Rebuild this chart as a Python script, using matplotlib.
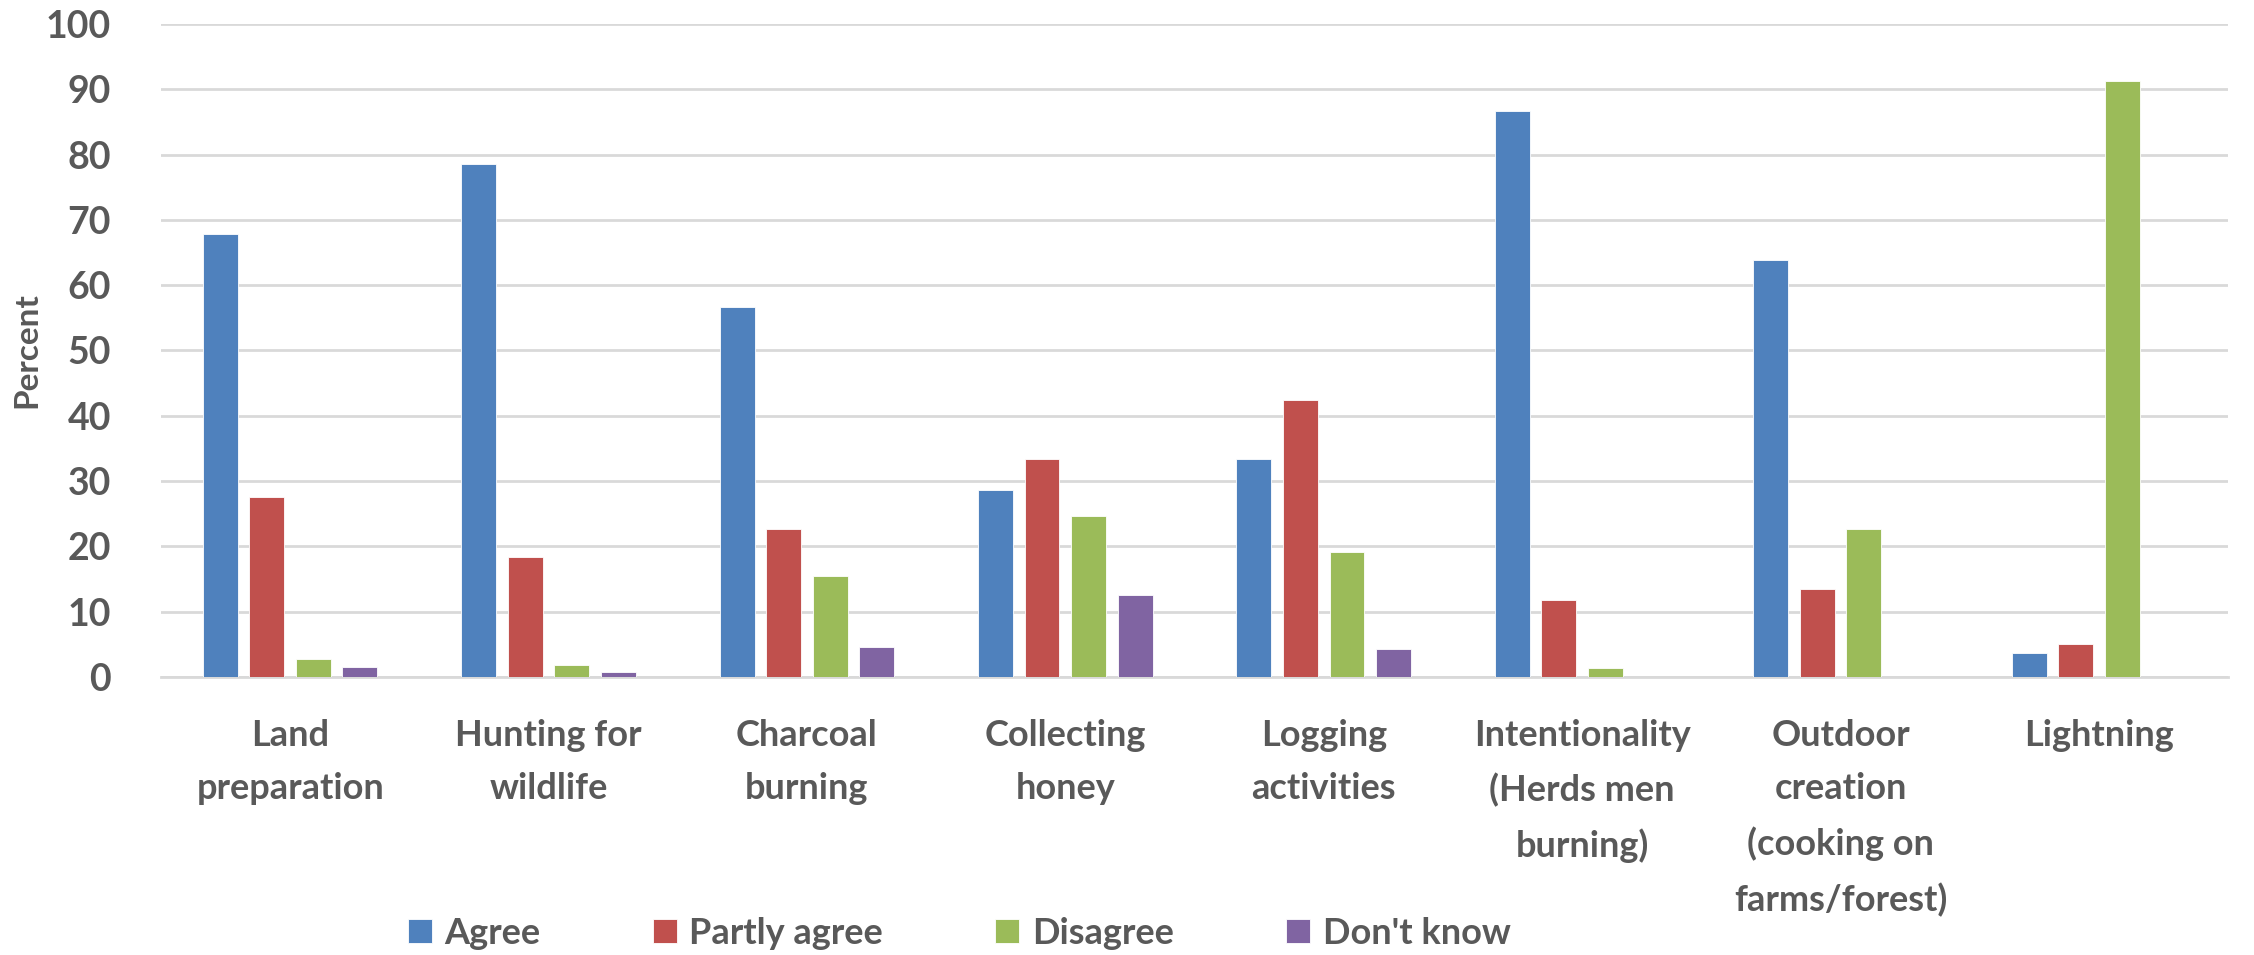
import matplotlib.pyplot as plt
import numpy as np

plt.rcParams['font.family'] = ['Lato', 'DejaVu Sans']

categories = ["Land\npreparation", "Hunting for\nwildlife", "Charcoal\nburning",
              "Collecting\nhoney", "Logging\nactivities",
              "Intentionality\n(Herds men\nburning)",
              "Outdoor\ncreation\n(cooking on\nfarms/forest)", "Lightning"]
series = ["Agree", "Partly agree", "Disagree", "Don't know"]

agree = [67.9, 78.5, 56.7, 28.7, 33.4, 86.6, 63.8, 3.6]
partly_agree = [27.6, 18.4, 22.7, 33.4, 42.4, 11.8, 13.5, 5.0]
disagree = [2.8, 1.9, 15.5, 24.6, 19.2, 1.4, 22.6, 91.2]
dont_know = [1.6, 0.7, 4.6, 12.6, 4.3, 0, 0, 0]

colors = ["#4F81BD", "#C0504D", "#9BBB59", "#8064A2"]
txt = "#595959"

fig = plt.figure(figsize=(22.54, 9.55), dpi=100)
ax = fig.add_axes([0.0714, 0.2911, 0.9171, 0.6838])

# clustered bars, four per category
x = np.arange(len(categories))
step, w = 0.18, 0.135
for j, (name, vals) in enumerate(zip(series, [agree, partly_agree, disagree, dont_know])):
    ax.bar(x + (j - 1.5) * step, vals, width=w, color=colors[j],
           edgecolor="white", linewidth=0.6, label=name, zorder=3)

ax.set_xlim(-0.5, len(categories) - 0.5)
ax.set_ylim(0, 100)
ax.set_yticks(range(0, 101, 10))
ax.yaxis.grid(True, color="#d9d9d9", linewidth=2, zorder=0)
for s in ["top", "right", "left"]:
    ax.spines[s].set_visible(False)
ax.spines["bottom"].set_color("#d9d9d9")
ax.spines["bottom"].set_linewidth(2)
ax.tick_params(length=0)
ax.tick_params(axis="y", labelsize=27, labelcolor=txt, pad=36)
ax.tick_params(axis="x", labelsize=26, labelcolor=txt, pad=30)
ax.set_xticks(x)
ax.set_xticklabels(categories, fontweight="bold", va="top", linespacing=1.75)
for t in ax.get_yticklabels():
    t.set_fontweight("bold")

ax.set_ylabel("Percent", fontsize=24, fontweight="bold", color=txt)
ax.yaxis.set_label_coords(-0.058, 0.5)

fig.legend(loc="center", bbox_to_anchor=(0.4255, 0.023), ncol=4, frameon=False,
           handlelength=0.67, handleheight=0.67, handletextpad=0.35,
           columnspacing=3.1, labelcolor=txt, prop={"weight": "bold", "size": 26})

fig.savefig("out.png", dpi=100)
